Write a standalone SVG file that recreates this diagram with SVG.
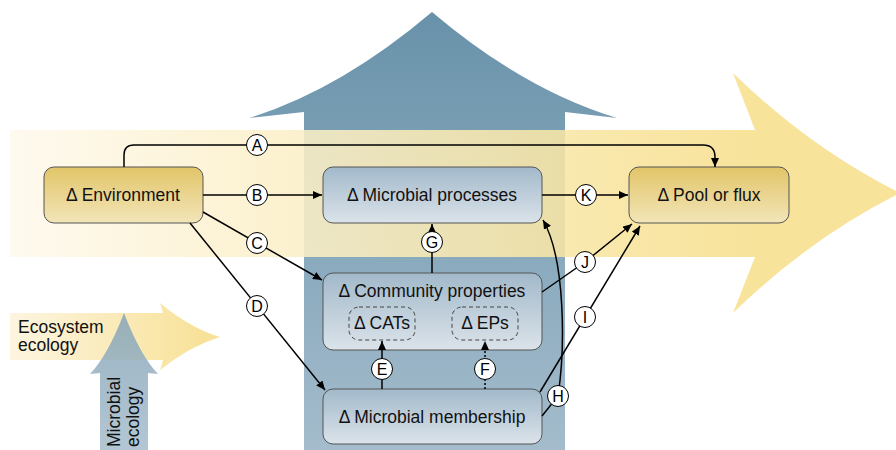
<svg xmlns="http://www.w3.org/2000/svg" width="896" height="450" viewBox="0 0 896 450">
<defs>
<linearGradient id="yband" gradientUnits="userSpaceOnUse" x1="10" y1="0" x2="760" y2="0">
<stop offset="0" stop-color="#fef9ec"/>
<stop offset="1" stop-color="#f7df8c"/>
</linearGradient>
<linearGradient id="yband2" gradientUnits="userSpaceOnUse" x1="10" y1="0" x2="200" y2="0">
<stop offset="0" stop-color="#fdf5e0"/>
<stop offset="1" stop-color="#f8e29a"/>
</linearGradient>
<linearGradient id="bband" gradientUnits="userSpaceOnUse" x1="0" y1="12" x2="0" y2="450">
<stop offset="0" stop-color="#6892aa"/>
<stop offset="1" stop-color="#a4bccc"/>
</linearGradient>
<linearGradient id="bband2" gradientUnits="userSpaceOnUse" x1="0" y1="313" x2="0" y2="450">
<stop offset="0" stop-color="#86a5b9"/>
<stop offset="1" stop-color="#a6bccb"/>
</linearGradient>
<linearGradient id="gold" x1="0" y1="0" x2="0" y2="1">
<stop offset="0" stop-color="#e2c569"/>
<stop offset="1" stop-color="#f2e5b8"/>
</linearGradient>
<linearGradient id="blue" x1="0" y1="0" x2="0" y2="1">
<stop offset="0" stop-color="#a2b9ca"/>
<stop offset="1" stop-color="#dbe3ea"/>
</linearGradient>
<marker id="ah" markerUnits="userSpaceOnUse" markerWidth="10" markerHeight="8" refX="9" refY="4" orient="auto">
<path d="M0,0 L9,4 L0,8 z" fill="#000"/>
</marker>
</defs>
<style>
.node{stroke:#555;stroke-width:1}
.lbl{font-family:"Liberation Sans",Arial,sans-serif;font-size:17.5px;fill:#111}
.mid{text-anchor:middle}
.con{fill:none;stroke:#000;stroke-width:1.5}
.arr{marker-end:url(#ah)}
.circ{fill:#fff;stroke:#000;stroke-width:1}
.let{font-family:"Liberation Sans",Arial,sans-serif;font-size:16px;fill:#000;text-anchor:middle}
.dash{fill:none;stroke:#444;stroke-width:1;stroke-dasharray:4,3}
</style>

<!-- background arrows -->
<g id="bg-arrows">
<path d="M304,450 V112 L249,118 Q340,90 432,12 Q524,90 617,118 L565,112 V450 Z" fill="url(#bband)"/>
<path d="M10,130 H755 L733,73 Q810,148 900,193 Q810,238 733,313 L755,257 H10 Z" fill="url(#yband)" fill-opacity="0.88"/>
<path d="M10,313 H163 L160,303 Q190,328 220,337 Q190,346 160,370 L163,360 H10 Z" fill="url(#yband2)"/>
<path d="M100,450 V373 L90,374 Q108,355 124,313 Q140,355 158,374 L148,373 V450 Z" fill="url(#bband2)" fill-opacity="0.85"/>
<text class="lbl" x="18" y="333">Ecosystem</text>
<text class="lbl" x="18" y="351">ecology</text>
<text class="lbl" transform="translate(120,447) rotate(-90)">Microbial</text>
<text class="lbl" transform="translate(139,447) rotate(-90)">ecology</text>
</g>

<!-- nodes -->
<g id="environment">
<rect class="node" x="44" y="167" width="159" height="56" rx="10" fill="url(#gold)"/>
<text class="lbl mid" x="123" y="201">Δ Environment</text>
</g>
<g id="processes">
<rect class="node" x="323" y="167" width="219" height="56" rx="10" fill="url(#blue)"/>
<text class="lbl mid" x="432" y="201">Δ Microbial processes</text>
</g>
<g id="pool">
<rect class="node" x="629" y="167" width="160" height="56" rx="10" fill="url(#gold)"/>
<text class="lbl mid" x="709" y="201">Δ Pool or flux</text>
</g>
<g id="community">
<rect class="node" x="323" y="273" width="219" height="77" rx="10" fill="url(#blue)"/>
<text class="lbl mid" x="432" y="297">Δ Community properties</text>
</g>
<g id="cats">
<rect class="dash" x="349" y="307" width="66" height="33" rx="10"/>
<text class="lbl mid" x="382" y="329">Δ CATs</text>
</g>
<g id="eps">
<rect class="dash" x="452" y="307" width="66" height="33" rx="10"/>
<text class="lbl mid" x="485" y="329">Δ EPs</text>
</g>
<g id="membership">
<rect class="node" x="323" y="389" width="219" height="55" rx="10" fill="url(#blue)"/>
<text class="lbl mid" x="432" y="423">Δ Microbial membership</text>
</g>

<!-- connectors -->
<g id="connectors">
<path class="con arr" d="M124,167 V155 Q124,145 134,145 H703 Q715,145 715,157 V167"/>
<path class="con arr" d="M203,195 H322"/>
<path class="con arr" d="M203,212 L322,280"/>
<path class="con arr" d="M190,223 L325,390"/>
<path class="con arr" d="M382,389 V341"/>
<path class="con arr" d="M485,389 V341" style="stroke-dasharray:2,2"/>
<path class="con arr" d="M432,273 V224"/>
<path class="con arr" d="M542,416 L558,396 C565,350 566,260 543,220"/>
<path class="con arr" d="M540,392 L640,226"/>
<path class="con arr" d="M542,292 L585,262 L632,224"/>
<path class="con arr" d="M542,195 H628"/>
<g id="labels">
<circle class="circ" cx="257" cy="145" r="10.5"/><text class="let" x="257" y="150.5">A</text>
<circle class="circ" cx="257" cy="195" r="10.5"/><text class="let" x="257" y="200.5">B</text>
<circle class="circ" cx="257" cy="243" r="10.5"/><text class="let" x="257" y="248.5">C</text>
<circle class="circ" cx="257" cy="306" r="10.5"/><text class="let" x="257" y="311.5">D</text>
<circle class="circ" cx="382" cy="369" r="10.5"/><text class="let" x="382" y="374.5">E</text>
<circle class="circ" cx="485" cy="369" r="10.5"/><text class="let" x="485" y="374.5">F</text>
<circle class="circ" cx="432" cy="242" r="10.5"/><text class="let" x="432" y="247.5">G</text>
<circle class="circ" cx="558" cy="396" r="10.5"/><text class="let" x="558" y="401.5">H</text>
<circle class="circ" cx="585" cy="317" r="10.5"/><text class="let" x="585" y="322.5">I</text>
<circle class="circ" cx="585" cy="262" r="10.5"/><text class="let" x="585" y="267.5">J</text>
<circle class="circ" cx="586" cy="195" r="10.5"/><text class="let" x="586" y="200.5">K</text>
</g>
</g>
</svg>
